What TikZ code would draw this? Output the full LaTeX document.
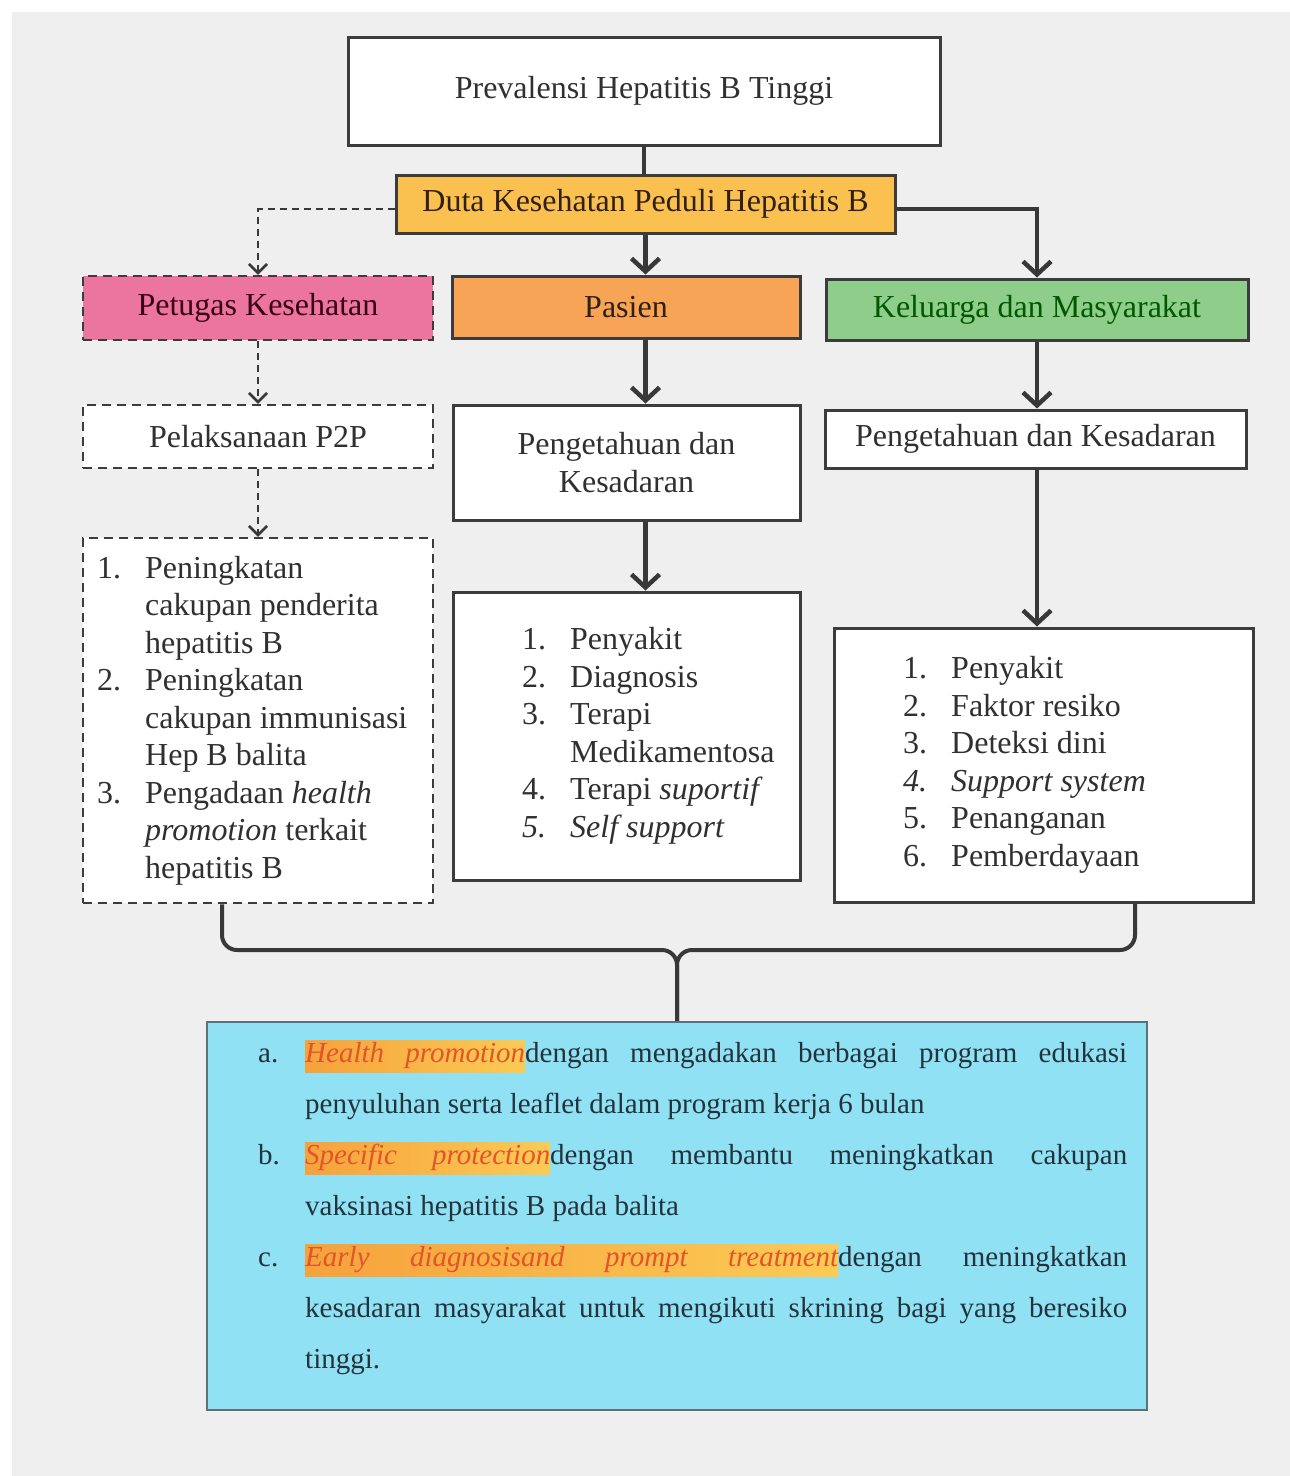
\documentclass[tikz,border=0pt]{standalone}
\usepackage{fontspec}
\setmainfont{Liberation Serif}
\usetikzlibrary{arrows.meta}
\definecolor{bgc}{HTML}{EFEFEF}
\definecolor{bordc}{HTML}{3C3C3C}
\definecolor{linec}{HTML}{383838}
\definecolor{txt}{HTML}{303030}
\definecolor{dutac}{HTML}{FAC050}
\definecolor{pinkc}{HTML}{EC75A0}
\definecolor{orc}{HTML}{F7A456}
\definecolor{grc}{HTML}{8FCD8B}
\definecolor{cyanc}{HTML}{90E1F4}
\definecolor{cyanb}{HTML}{5E7078}
\definecolor{btxt}{HTML}{24323C}
\definecolor{hlA}{HTML}{F6A23C}
\definecolor{hlB}{HTML}{FBCB55}
\definecolor{hltxt}{HTML}{E2552B}
\newcommand\bigfont{\fontsize{32}{37.5}\selectfont}
\newcommand\smallfont{\fontsize{29}{51}\selectfont}
\newcommand\hlt[3]{\tikz[baseline=(#1.base)]\node[hlnode](#1){\makebox[#2pt][s]{#3}};}
\newcommand\num[1]{\makebox[48pt][l]{#1}}
\newcommand\ind{\hspace*{48pt}}
\tikzset{
  box/.style={draw=bordc, line width=3pt, fill=white, text=txt, font=\bigfont, inner sep=0pt, align=center},
  dbox/.style={box, line width=2.5pt, dash pattern=on 9pt off 6pt},
  conn/.style={draw=linec, line width=4.5pt},
  arr/.style={conn, -{Straight Barb[length=13pt,width=28pt]}},
  darr/.style={draw=linec, line width=2.5pt, dash pattern=on 7pt off 5pt, -{Straight Barb[length=9pt,width=18pt]}},
  listtext/.style={text=txt, font=\bigfont, inner sep=0pt, align=left, anchor=west},
  bline/.style={text=btxt, font=\smallfont, inner sep=0pt, anchor=base west},
  hlnode/.style={inner sep=0pt, left color=hlA, right color=hlB, text=hltxt, font=\itshape, text height=22pt, text depth=10pt}
}
\begin{document}
\begin{tikzpicture}[x=1pt,y=-1pt]
\useasboundingbox (0,0) rectangle (1290,1476);
\fill[white] (0,0) rectangle (1290,1476);
\fill[bgc] (12,12) rectangle (1290,1476);

% top row
\node[box, minimum width=592pt, minimum height=108pt] (top) at (644,91) {\raisebox{-4pt}{Prevalensi Hepatitis B Tinggi}};
\node[box, fill=dutac, text=black!75!brown, minimum width=499pt, minimum height=58pt] (duta) at (645.5,204) {Duta Kesehatan Peduli Hepatitis B};

% second row
\node[dbox, fill=pinkc, text=black!70!purple, minimum width=350pt, minimum height=64pt] (pet) at (258,308) {Petugas Kesehatan};
\node[box, fill=orc, text=black!75!brown, minimum width=348pt, minimum height=62pt] (pas) at (626,307) {Pasien};
\node[box, fill=grc, text=black!65!green, minimum width=422pt, minimum height=61pt] (kel) at (1037,309.5) {Keluarga dan Masyarakat};

% third row
\node[dbox, minimum width=350pt, minimum height=63pt] (p2p) at (258,436.5) {Pelaksanaan P2P};
\node[box, minimum width=347pt, minimum height=115pt] (pk1) at (626.5,462.5) {Pengetahuan dan\\Kesadaran};
\node[box, minimum width=421pt, minimum height=58pt] (pk2) at (1035.5,439) {Pengetahuan dan Kesadaran};

% lists
\node[dbox, minimum width=350pt, minimum height=365pt] (l1) at (258,720.5) {};
\node[listtext] (t1) at (97,720.5) {%
\num{1.}Peningkatan\\
\ind cakupan penderita\\
\ind hepatitis B\\
\num{2.}Peningkatan\\
\ind cakupan immunisasi\\
\ind Hep B balita\\
\num{3.}Pengadaan \textit{health}\\
\ind\textit{promotion} terkait\\
\ind hepatitis B};

\node[box, minimum width=347pt, minimum height=288pt] (l2) at (626.5,736) {};
\node[listtext] (t2) at (522,736) {%
\num{1.}Penyakit\\
\num{2.}Diagnosis\\
\num{3.}Terapi\\
\ind Medikamentosa\\
\num{4.}Terapi \textit{suportif}\\
\textit{\num{5.}Self support}};

\node[box, minimum width=419pt, minimum height=274pt] (l3) at (1043.5,765) {};
\node[listtext] (t3) at (903,765) {%
\num{1.}Penyakit\\
\num{2.}Faktor resiko\\
\num{3.}Deteksi dini\\
\textit{\num{4.}Support system}\\
\num{5.}Penanganan\\
\num{6.}Pemberdayaan};

% bottom box
\node[draw=cyanb, line width=2.5pt, fill=cyanc, minimum width=940pt, minimum height=388pt] (bb) at (677,1216) {};

% connectors
\draw[conn] (top.south) -- (top.south |- duta.north);
\draw[arr] (duta.south) -- (duta.south |- pas.north);
\draw[arr] ([yshift=-5pt]duta.east) -| (kel.north);
\draw[darr] ([yshift=-5pt]duta.west) -| (pet.north);
\draw[darr] (pet.south) -- (p2p.north);
\draw[darr] (p2p.south) -- (l1.north);
\draw[arr] (pas.south -| duta.south) -- (pk1.north -| duta.south);
\draw[arr] (pk1.south -| duta.south) -- (l2.north -| duta.south);
\draw[arr] (kel.south) -- (kel.south |- pk2.north);
\draw[arr] (pk2.south -| kel.south) -- (l3.north -| kel.south);

% brace
\coordinate (bx1) at (222,0);
\coordinate (bx2) at (1135,0);
\coordinate (by) at (0,950);
\draw[conn, line width=4pt, rounded corners=15pt] (l1.south -| bx1) |- (bb.north |- by) -- (bb.north);
\draw[conn, line width=4pt, rounded corners=15pt] (l3.south -| bx2) |- (bb.north |- by) -- (bb.north);

% bottom text
\node[bline] (a1) at (258,1062) {\makebox[47pt][l]{a.}\makebox[822pt][s]{\hlt{hla}{220}{Health promotion}dengan mengadakan berbagai program edukasi}};
\node[bline] (a2) at (305,1113) {penyuluhan serta leaflet dalam program kerja 6 bulan};
\node[bline] (b1) at (258,1164) {\makebox[47pt][l]{b.}\makebox[822pt][s]{\hlt{hlb}{245}{Specific protection}dengan membantu meningkatkan cakupan}};
\node[bline] (b2) at (305,1215) {vaksinasi hepatitis B pada balita};
\node[bline] (c1) at (258,1266) {\makebox[47pt][l]{c.}\makebox[822pt][s]{\hlt{hlc}{533}{Early diagnosisand prompt treatment}dengan meningkatkan}};
\node[bline] (c2) at (305,1317) {\makebox[822pt][s]{kesadaran masyarakat untuk mengikuti skrining bagi yang beresiko}};
\node[bline] (c3) at (305,1368) {tinggi.};
\end{tikzpicture}
\end{document}
